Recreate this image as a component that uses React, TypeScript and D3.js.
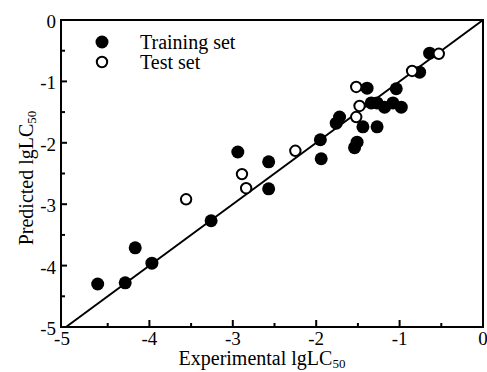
import * as d3 from "d3"

// Training set (filled): experimental, predicted
const trainX = [-4.62, -4.29, -4.17, -3.97, -3.26, -2.94, -2.57, -2.57, -1.95, -1.94, -1.76, -1.72, -1.54, -1.51, -1.44, -1.39, -1.34, -1.27, -1.27, -1.18, -1.08, -1.04, -0.98, -0.76, -0.64]
const trainY = [-4.30, -4.28, -3.71, -3.96, -3.27, -2.15, -2.31, -2.75, -1.95, -2.26, -1.68, -1.58, -2.08, -1.99, -1.74, -1.11, -1.35, -1.35, -1.74, -1.42, -1.35, -1.12, -1.42, -0.85, -0.54]
// Test set (open)
const testX = [-3.56, -2.89, -2.84, -2.25, -1.52, -1.48, -1.52, -0.85, -0.53]
const testY = [-2.92, -2.51, -2.74, -2.13, -1.09, -1.40, -1.58, -0.83, -0.55]

const majorTicks = [-5, -4, -3, -2, -1, 0]
const minorTicks = [-4.5, -3.5, -2.5, -1.5, -0.5]
const legendItems = ["Training set", "Test set"]

const W = 487, H = 372
const FONT = "'Liberation Serif', 'Times New Roman', serif"

export default function App() {
  const x = d3.scaleLinear().domain([-5, 0]).range([66, 483])
  const y = d3.scaleLinear().domain([-5, 0]).range([327, 20])
  const frameL = 61
  const line = d3.line<number>().x(d => x(d)).y(d => y(d))

  return (
    <svg width={W} height={H} style={{ position: "absolute", left: 0, top: 0, background: "#fff" }} fontFamily={FONT}>
      {/* diagonal */}
      <path d={line([-5, 0]) ?? ""} stroke="#000" strokeWidth={2} fill="none" />

      {/* frame */}
      <rect x={frameL} y={y(0)} width={x(0) - frameL} height={y(-5) - y(0)} fill="none" stroke="#000" strokeWidth={2} />

      {/* x ticks */}
      {majorTicks.map(t => (
        <g key={"xt" + t}>
          {t > -5 && t < 0 && <line x1={x(t)} x2={x(t)} y1={y(-5)} y2={y(-5) - 7} stroke="#000" strokeWidth={2} />}
          <text x={x(t) - (t === -5 ? 4 : 0)} y={345} textAnchor="middle" fontSize={19}>{t}</text>
        </g>
      ))}
      {minorTicks.map(t => (
        <line key={"xm" + t} x1={x(t)} x2={x(t)} y1={y(-5)} y2={y(-5) - 4} stroke="#000" strokeWidth={2} />
      ))}

      {/* y ticks */}
      {majorTicks.map(t => (
        <g key={"yt" + t}>
          {t > -5 && t < 0 && <line x1={frameL} x2={frameL + 6} y1={y(t)} y2={y(t)} stroke="#000" strokeWidth={2} />}
          <text x={56} y={y(t) + 8} textAnchor="end" fontSize={19}>{t}</text>
        </g>
      ))}
      {minorTicks.map(t => (
        <line key={"ym" + t} x1={frameL} x2={frameL + 4} y1={y(t)} y2={y(t)} stroke="#000" strokeWidth={2} />
      ))}

      {/* points */}
      {trainX.map((v, i) => (
        <circle key={"tr" + i} cx={x(v)} cy={y(trainY[i])} r={6.5} fill="#000" />
      ))}
      {testX.map((v, i) => (
        <circle key={"te" + i} cx={x(v)} cy={y(testY[i])} r={5.2} fill="#fff" stroke="#000" strokeWidth={2} />
      ))}

      {/* legend */}
      <circle cx={102} cy={42} r={6.5} fill="#000" />
      <circle cx={102} cy={62} r={5.2} fill="#fff" stroke="#000" strokeWidth={2} />
      {legendItems.map((s, i) => (
        <text key={s} x={140} y={49 + i * 20} fontSize={20}>{s}</text>
      ))}

      {/* axis titles */}
      <text x={262} y={365} textAnchor="middle" fontSize={20}>
        Experimental lgLC<tspan fontSize={13} dy={3}>50</tspan>
      </text>
      <text transform="translate(33,178) rotate(-90)" textAnchor="middle" fontSize={20}>
        Predicted lgLC<tspan fontSize={13} dy={3}>50</tspan>
      </text>
    </svg>
  )
}
